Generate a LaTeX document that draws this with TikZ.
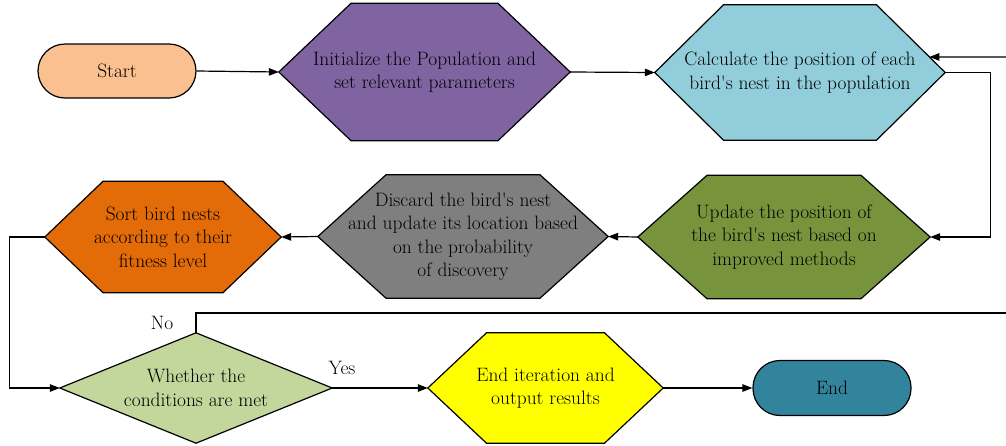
\documentclass[tikz,border=0pt]{standalone}
\usetikzlibrary{arrows.meta,calc}
\pgfdeclarelayer{background}
\pgfsetlayers{background,main}

\definecolor{startfill}{HTML}{FAC090}
\definecolor{initfill}{HTML}{8064A2}
\definecolor{calcfill}{HTML}{92CDDC}
\definecolor{updfill}{HTML}{77933C}
\definecolor{discfill}{HTML}{7F7F7F}
\definecolor{sortfill}{HTML}{E36C09}
\definecolor{condfill}{HTML}{C3D69B}
\definecolor{outfill}{HTML}{FFFF00}
\definecolor{endfill}{HTML}{31849B}

\tikzset{
  txt/.style={align=center, inner sep=0pt, font=\rmfamily\fontsize{19.4}{23.5}\selectfont},
  box/.style 2 args={txt, minimum width=#1, minimum height=#2},
  outline/.style={draw=black, line width=1.2pt, line join=miter},
  term/.style={txt, outline, minimum width=158pt, minimum height=54pt, rounded corners=27pt},
  link/.style={draw=black, line width=1.2pt},
  flow/.style={link, -{Triangle[length=10pt,width=7.5pt]}},
}

% hexagon (or diamond when the top half-width is 0) behind a named box node
\newcommand\hexoutline[3]{%
  \path (#1.north) ++(#2,0) coordinate (#1-ne)
        (#1.north) ++(-#2,0) coordinate (#1-nw)
        (#1.south) ++(#2,0) coordinate (#1-se)
        (#1.south) ++(-#2,0) coordinate (#1-sw);
  \begin{pgfonlayer}{background}
    \draw[outline, fill=#3] (#1.west) -- (#1-nw) -- (#1-ne) -- (#1.east)
      -- (#1-se) -- (#1-sw) -- cycle;
  \end{pgfonlayer}}

\begin{document}
\begin{tikzpicture}[x=1pt, y=-1pt]
\useasboundingbox (0,0) rectangle (1006,445);

% top row
\node[term, fill=startfill] (start) at (117,71) {Start};

\node[box={291pt}{137pt}] (init) at (424.5,72)
  {Initialize the Population and\\set relevant parameters};
\hexoutline{init}{73.5}{initfill}

\node[box={290pt}{135pt}] (calc) at (800,72.5)
  {Calculate the position of each\\bird\textquotesingle s nest in the population};
\hexoutline{calc}{76.5}{calcfill}

% middle row
\node[box={292pt}{123pt}] (upd) at (784,237)
  {Update the position of\\the bird\textquotesingle s nest based on\\improved methods};
\hexoutline{upd}{77}{updfill}

\node[box={290pt}{123pt}] (disc) at (463,236.5)
  {Discard the bird\textquotesingle s nest\\and update its location based\\on the probability\\of discovery};
\hexoutline{disc}{77}{discfill}

\node[box={236pt}{111pt}] (sort) at (163,237)
  {Sort bird nests\\according to their\\fitness level};
\hexoutline{sort}{60}{sortfill}

% bottom row
\node[box={272pt}{110pt}] (cond) at (196,388)
  {Whether the\\conditions are met};
\hexoutline{cond}{0}{condfill}

\node[box={235pt}{110pt}] (out) at (545.5,388)
  {End iteration and\\output results};
\hexoutline{out}{59}{outfill}

\node[term, fill=endfill, minimum height=55pt] (stop) at (832,388) {End};

\node[txt] (yes) at (342,368) {Yes};
\node[txt] (no) at (162,323) {No};

% connectors
\coordinate (loopin) at (1006,57);
\coordinate (loopout) at (1006,313);

\draw[flow] (start.east) -- (init.west);
\draw[flow] (init.east) -- (calc.west);
\draw[flow] (calc.east) -- ++(45,0) |- (upd.east);
\draw[flow] (loopin) -- ($(calc.east)!0.23!(calc-ne)$);
\draw[flow] (upd.west) -- (disc.east);
\draw[flow] (disc.west) -- (sort.east);
\draw[flow] (sort.west) -- ++(-35,0) |- (cond.west);
\draw[link] (cond.north) |- (loopout);
\draw[flow] (cond.east) -- (out.west);
\draw[flow] (out.east) -- (stop.west);
\end{tikzpicture}
\end{document}
